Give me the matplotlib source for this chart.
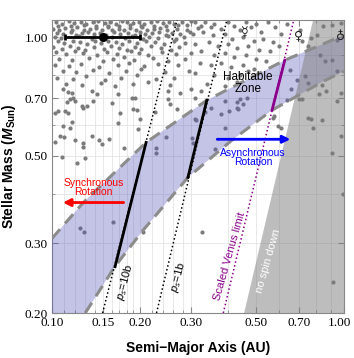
import numpy as np
import matplotlib
matplotlib.use('Agg')
import matplotlib.pyplot as plt
import matplotlib.transforms as mtransforms
from matplotlib.ticker import FixedLocator, NullFormatter

plt.rcParams['font.family'] = ['Liberation Sans', 'DejaVu Sans']
plt.rcParams['mathtext.fontset'] = 'custom'
plt.rcParams['mathtext.it'] = 'Liberation Sans:italic'
plt.rcParams['mathtext.rm'] = 'Liberation Sans'
plt.rcParams['mathtext.bf'] = 'Liberation Sans:bold'
plt.rcParams['mathtext.bfit'] = 'Liberation Sans:italic:bold'

# ---- data ----
# habitable zone edges (semi-major axis AU, stellar mass Msun)
hz_in_a = [0.100, 0.128, 0.210, 0.339, 0.627, 1.000]
hz_in_m = [0.309, 0.381, 0.541, 0.692, 0.874, 1.012]
hz_out_a = [0.130, 0.164, 0.205, 0.292, 0.413, 0.567, 0.850, 1.000]
hz_out_m = [0.200, 0.262, 0.324, 0.441, 0.548, 0.653, 0.773, 0.820]

# spin-down lines: endpoints (bottom/top of frame) and solid part inside HZ
ps10_a, ps10_m = [0.149, 0.268], [0.200, 1.105]
ps10_in_a, ps10_in_m = [0.1644, 0.210], [0.262, 0.541]
ps1_a, ps1_m = [0.228, 0.397], [0.200, 1.105]
ps1_in_a, ps1_in_m = [0.292, 0.339], [0.441, 0.692]
venus_a, venus_m = [0.386, 0.673], [0.200, 1.105]
venus_in_a, venus_in_m = [0.567, 0.627], [0.653, 0.874]
nospin_a = [0.455, 0.784, 1.0, 1.0]
nospin_m = [0.200, 1.105, 1.105, 0.200]

# sun-like star with error bar
star_a, star_m = 0.149, 1.0
star_lo, star_hi = 0.111, 0.200

# planets (dense upper-left cloud)
dense_a = [0.103, 0.108, 0.114, 0.119, 0.126, 0.131, 0.138, 0.144, 0.152, 0.158, 0.166, 0.173, 0.181, 0.190, 0.198, 0.207, 0.218, 0.228, 0.240, 0.252, 0.262, 0.279, 0.300,
           0.101, 0.106, 0.111, 0.117, 0.122, 0.129, 0.135, 0.141, 0.148, 0.155, 0.161, 0.169, 0.177, 0.185, 0.194, 0.203, 0.212, 0.224, 0.235, 0.247, 0.268, 0.290, 0.315,
           0.105, 0.116, 0.129, 0.141, 0.155, 0.169, 0.185, 0.202, 0.223, 0.246, 0.270, 0.290,
           0.104, 0.109, 0.116, 0.121, 0.127, 0.133, 0.139, 0.146, 0.153, 0.163, 0.171, 0.182, 0.192, 0.200, 0.209, 0.220, 0.232, 0.245, 0.258, 0.275, 0.297,
           0.102, 0.107, 0.124, 0.137, 0.160, 0.178, 0.188, 0.205, 0.215, 0.230, 0.250, 0.266, 0.283,
           0.105, 0.110, 0.118, 0.125, 0.132, 0.140, 0.147, 0.156, 0.165, 0.174, 0.184, 0.196, 0.210, 0.226, 0.242, 0.262, 0.285,
           0.101, 0.108, 0.115, 0.123, 0.130, 0.139, 0.151, 0.159, 0.170, 0.180, 0.193, 0.201, 0.219, 0.236, 0.256, 0.272,
           0.103, 0.112, 0.120, 0.128, 0.143, 0.154, 0.167, 0.186, 0.199, 0.214, 0.238, 0.265,
           0.106, 0.117, 0.134, 0.149, 0.162, 0.176, 0.191, 0.222, 0.249, 0.285,
           0.102, 0.114, 0.126, 0.145, 0.168, 0.183, 0.206, 0.231, 0.271,
           0.109, 0.121, 0.138, 0.157, 0.179, 0.202, 0.244, 0.295,
           0.104, 0.118, 0.131, 0.152, 0.172, 0.195, 0.227, 0.262,
           0.112, 0.127, 0.147, 0.164, 0.189, 0.213, 0.253]
dense_m = [1.09, 1.08, 1.10, 1.085, 1.095, 1.08, 1.09, 1.10, 1.085, 1.095, 1.08, 1.10, 1.09, 1.085, 1.095, 1.08, 1.09, 1.10, 1.085, 1.095, 1.08, 1.09, 1.10,
           1.05, 1.04, 1.055, 1.045, 1.06, 1.04, 1.05, 1.055, 1.04, 1.06, 1.045, 1.05, 1.04, 1.055, 1.045, 1.06, 1.04, 1.05, 1.055, 1.045, 1.05, 1.04, 1.055,
           1.07, 1.065, 1.072, 1.068, 1.07, 1.065, 1.072, 1.068, 1.07, 1.066, 1.072, 1.075,
           1.025, 1.02, 1.03, 1.015, 1.025, 1.03, 1.02, 1.025, 1.015, 1.03, 1.02, 1.025, 1.015, 1.03, 1.02, 1.025, 1.03, 1.015, 1.025, 1.02, 1.03,
           1.0, 0.995, 1.005, 0.99, 1.0, 0.995, 1.005, 0.99, 1.0, 0.995, 1.005, 0.99, 1.0,
           0.975, 0.965, 0.98, 0.97, 0.96, 0.975, 0.965, 0.98, 0.97, 0.96, 0.975, 0.965, 0.98, 0.97, 0.96, 0.975, 0.965,
           0.945, 0.935, 0.95, 0.94, 0.93, 0.945, 0.935, 0.95, 0.94, 0.93, 0.945, 0.935, 0.95, 0.94, 0.93, 0.945,
           0.915, 0.905, 0.92, 0.91, 0.90, 0.915, 0.905, 0.92, 0.91, 0.90, 0.915, 0.905,
           0.88, 0.875, 0.885, 0.87, 0.88, 0.89, 0.875, 0.885, 0.87, 0.88,
           0.85, 0.845, 0.855, 0.84, 0.85, 0.86, 0.845, 0.855, 0.85,
           0.82, 0.815, 0.825, 0.81, 0.82, 0.83, 0.815, 0.82,
           0.79, 0.785, 0.795, 0.78, 0.79, 0.80, 0.785, 0.79,
           0.76, 0.755, 0.765, 0.75, 0.76, 0.77, 0.755]

# sparser planets, left side below the cloud
left_a = [0.109, 0.1135, 0.117, 0.118, 0.115, 0.120, 0.113, 0.111, 0.105, 0.102, 0.1135, 0.127, 0.128, 0.132,
          0.138, 0.137, 0.143, 0.161, 0.168, 0.171, 0.188, 0.192, 0.189, 0.196, 0.200, 0.168, 0.197, 0.117,
          0.109, 0.115, 0.1065, 0.110, 0.120, 0.128, 0.128, 0.137, 0.145, 0.148, 0.157, 0.102, 0.108, 0.122,
          0.1297, 0.176, 0.1247, 0.1287, 0.1617, 0.205]
left_m = [0.738, 0.725, 0.721, 0.700, 0.696, 0.688, 0.684, 0.649, 0.649, 0.641, 0.641, 0.668, 0.660, 0.668,
          0.688, 0.729, 0.717, 0.680, 0.717, 0.641, 0.700, 0.700, 0.656, 0.653, 0.619, 0.605, 0.584, 0.609,
          0.595, 0.588, 0.561, 0.557, 0.548, 0.538, 0.526, 0.561, 0.548, 0.535, 0.551, 0.541, 0.497, 0.480,
          0.493, 0.523, 0.329, 0.320, 0.341, 0.320]

# planets in the middle and right
mid_a = [0.250, 0.253, 0.274, 0.225, 0.268, 0.309, 0.311, 0.246, 0.301, 0.305, 0.227, 0.227, 0.392, 0.404,
         0.380, 0.430, 0.440, 0.450, 0.435, 0.349, 0.333, 0.361, 0.323, 0.250,
         0.31, 0.325, 0.335, 0.35, 0.36, 0.38, 0.40, 0.42, 0.44, 0.46, 0.48, 0.50, 0.52, 0.55, 0.58, 0.61, 0.64,
         0.305, 0.33, 0.355, 0.39, 0.415, 0.45, 0.49, 0.53, 0.57, 0.31, 0.345, 0.37, 0.40, 0.43, 0.47, 0.51,
         0.56, 0.60, 0.30, 0.325, 0.36, 0.39, 0.42, 0.46, 0.50, 0.54, 0.32, 0.35, 0.38, 0.41, 0.45, 0.49,
         0.31, 0.36, 0.40, 0.44, 0.34, 0.39, 0.43, 0.30, 0.47,
         0.309, 0.391, 0.429, 0.653, 0.688, 0.737, 0.64, 0.595, 0.66, 0.82, 0.70, 0.72, 0.77, 0.61, 0.575,
         0.57, 0.466, 0.98]
mid_m = [0.696, 0.675, 0.720, 0.645, 0.657, 0.619, 0.616, 0.557, 0.555, 0.540, 0.523, 0.508, 0.587, 0.648,
         0.640, 0.686, 0.696, 0.675, 0.657, 0.660, 0.645, 0.520, 0.730, 0.730,
         1.09, 1.07, 1.095, 1.06, 1.08, 1.05, 1.09, 1.07, 1.04, 1.09, 1.06, 1.08, 1.03, 1.09, 1.06, 1.02, 1.08,
         1.02, 1.03, 1.01, 1.02, 0.99, 1.0, 0.98, 0.99, 0.97, 0.96, 0.97, 0.95, 0.96, 0.94, 0.95, 0.93,
         0.92, 0.95, 0.91, 0.92, 0.90, 0.91, 0.89, 0.90, 0.88, 0.87, 0.86, 0.85, 0.86, 0.84, 0.85, 0.83,
         0.81, 0.80, 0.79, 0.80, 0.76, 0.75, 0.77, 0.74, 0.82,
         0.700, 0.688, 0.660, 0.824, 0.778, 0.796, 0.692, 0.594, 0.740, 0.717, 0.696, 0.696, 0.620, 0.590, 0.630,
         0.623, 0.700, 0.720]

# planets in the grey "no spin down" region
grey_a = [0.83, 0.86, 0.91, 0.945, 0.84, 0.87, 0.75, 0.75, 0.84, 0.785, 0.91, 0.98, 0.945, 0.945, 0.91,
          0.85, 0.98, 0.81, 0.75, 0.72, 0.707, 0.77, 0.99, 0.92, 0.326]
grey_m = [0.900, 0.870, 0.874, 0.820, 0.755, 0.730, 0.764, 0.623, 0.616, 0.587, 0.508, 0.561, 0.688, 0.983, 1.073,
          1.066, 1.085, 1.012, 0.948, 0.977, 1.042, 0.994, 0.400, 0.240, 0.320]

# axes ticks
xticks = [0.10, 0.15, 0.20, 0.30, 0.50, 0.70, 1.00]
yticks = [0.20, 0.30, 0.50, 0.70, 1.00]
xgrid = [0.10, 0.11, 0.12, 0.13, 0.14, 0.15, 0.16, 0.17, 0.18, 0.19, 0.20, 0.22, 0.24, 0.26, 0.28, 0.30,
         0.40, 0.50, 0.60, 0.70, 0.80, 0.90, 1.00]
ygrid = [0.2, 0.3, 0.4, 0.5, 0.6, 0.7, 0.8, 0.9, 1.0]

# ---- figure ----
fig = plt.figure(figsize=(3.54, 3.58), dpi=100)
ax = fig.add_axes([52/354, 45/358, 292/354, 293/358])
ax.set_xscale('log')
ax.set_yscale('log')

for xg in xgrid:
    ax.axvline(xg, color='#e4e4e4', lw=0.6, zorder=0)
for yg in ygrid:
    ax.axhline(yg, color='#e4e4e4', lw=0.6, zorder=0)

dot_a = np.concatenate([dense_a, left_a, mid_a, grey_a])
dot_m = np.concatenate([dense_m, left_m, mid_m, grey_m])
ax.scatter(dot_a, dot_m, s=9, color='#7b7b7b', lw=0, zorder=2)

# habitable zone band
poly_a = hz_in_a + hz_out_a[::-1] + [0.1]
poly_m = hz_in_m + hz_out_m[::-1] + [0.2]
ax.fill(poly_a, poly_m, color='#5656bd', alpha=0.35, lw=0, zorder=3)
ax.fill(nospin_a, nospin_m, color='#7d7d7d', alpha=0.5, lw=0, zorder=3.5)
for xa, ym in [(hz_in_a, hz_in_m), (hz_out_a, hz_out_m)]:
    ax.plot(xa, ym, color='#8c8c8c', lw=2.2, ls=(0, (4, 2.5)), zorder=4)

# spin-down lines
ax.plot(ps10_a, ps10_m, color='k', lw=1.1, ls=(0, (1, 1.6)), zorder=5)
ax.plot(ps10_in_a, ps10_in_m, color='k', lw=2, zorder=5)
ax.plot(ps1_a, ps1_m, color='k', lw=1.1, ls=(0, (1, 1.6)), zorder=5)
ax.plot(ps1_in_a, ps1_in_m, color='k', lw=2, zorder=5)
ax.plot(venus_a, venus_m, color='#8b008b', lw=1.1, ls=(0, (1, 1.6)), zorder=5)
ax.plot(venus_in_a, venus_in_m, color='#8b008b', lw=2, zorder=5)

ax.errorbar(star_a, star_m, xerr=[[star_a - star_lo], [star_hi - star_a]], fmt='o', color='k',
            ms=5.5, lw=2, capsize=2, capthick=2, zorder=7)

# annotations
ax.text(0.469, 0.764, 'Habitable\nZone', ha='center', va='center', fontsize=8.5, linespacing=1.0, zorder=6)
ax.text(0.488, 0.496, 'Asynchronous\nRotation', ha='center', va='center', fontsize=7.5, color='blue',
        linespacing=0.95, zorder=6)
ax.annotate('', xy=(0.655, 0.551), xytext=(0.368, 0.551),
            arrowprops=dict(arrowstyle='-|>', color='blue', lw=2, mutation_scale=11, shrinkA=0, shrinkB=0), zorder=6)
ax.text(0.139, 0.416, 'Synchronous\nRotation', ha='center', va='center', fontsize=7.5, color='red',
        linespacing=0.95, zorder=6)
ax.annotate('', xy=(0.109, 0.381), xytext=(0.176, 0.381),
            arrowprops=dict(arrowstyle='-|>', color='red', lw=2, mutation_scale=11, shrinkA=0, shrinkB=0), zorder=6)

ax.text(0.178, 0.239, r'$p_s$=10b', rotation=75, ha='center', va='center', fontsize=8, rotation_mode='anchor', zorder=6)
ax.text(0.27, 0.246, r'$p_s$=1b', rotation=75, ha='center', va='center', fontsize=8, rotation_mode='anchor', zorder=6)
ax.text(0.407, 0.279, 'Scaled Venus limit', rotation=74, ha='center', va='center', fontsize=8, color='#8b008b',
        rotation_mode='anchor', zorder=6)
ax.text(0.549, 0.271, 'no spin down', rotation=74, ha='center', va='center', fontsize=8, color='white',
        rotation_mode='anchor', zorder=6)

for sym, pa, pm in [('\u263f', 0.458, 1.023), ('\u2640', 0.696, 1.006), ('\u2641', 0.97, 1.006)]:
    ax.text(pa, pm, sym, ha='center', va='center', fontsize=9, family='DejaVu Sans', color='#222222', zorder=6)

ax.set_xlim(0.1, 1.0)
ax.set_ylim(0.2, 1.105)
ax.xaxis.set_major_locator(FixedLocator(xticks))
ax.yaxis.set_major_locator(FixedLocator(yticks))
ax.xaxis.set_minor_locator(FixedLocator(xgrid))
ax.yaxis.set_minor_locator(FixedLocator(ygrid))
ax.xaxis.set_minor_formatter(NullFormatter())
ax.yaxis.set_minor_formatter(NullFormatter())
ax.set_xticklabels(['%.2f' % v for v in xticks], family='Liberation Serif', fontsize=9.5)
ax.set_yticklabels(['%.2f' % v for v in yticks], family='Liberation Serif', fontsize=9.5)
ax.tick_params(which='both', direction='in', top=True, right=True, color='#888888')
ax.tick_params(which='major', length=4, width=0.8, pad=3)
ax.tick_params(which='minor', length=2, width=0.6)
for sp in ax.spines.values():
    sp.set_color('#888888')
    sp.set_linewidth(0.8)

# keep the last x label inside the canvas
last = ax.get_xticklabels()[-1]
last.set_transform(last.get_transform() + mtransforms.ScaledTranslation(-3/72, 0, fig.dpi_scale_trans))

ax.set_xlabel('Semi\u2212Major Axis (AU)', fontsize=10, fontweight='bold')
ax.xaxis.set_label_coords(0.5, -0.095)
ax.set_ylabel(r'Stellar Mass ($\mathbfit{M}_{\mathbf{Sun}}$)', fontsize=10, fontweight='bold')
ax.yaxis.set_label_coords(-0.118, 0.5)

fig.savefig('out.png', dpi=100)
